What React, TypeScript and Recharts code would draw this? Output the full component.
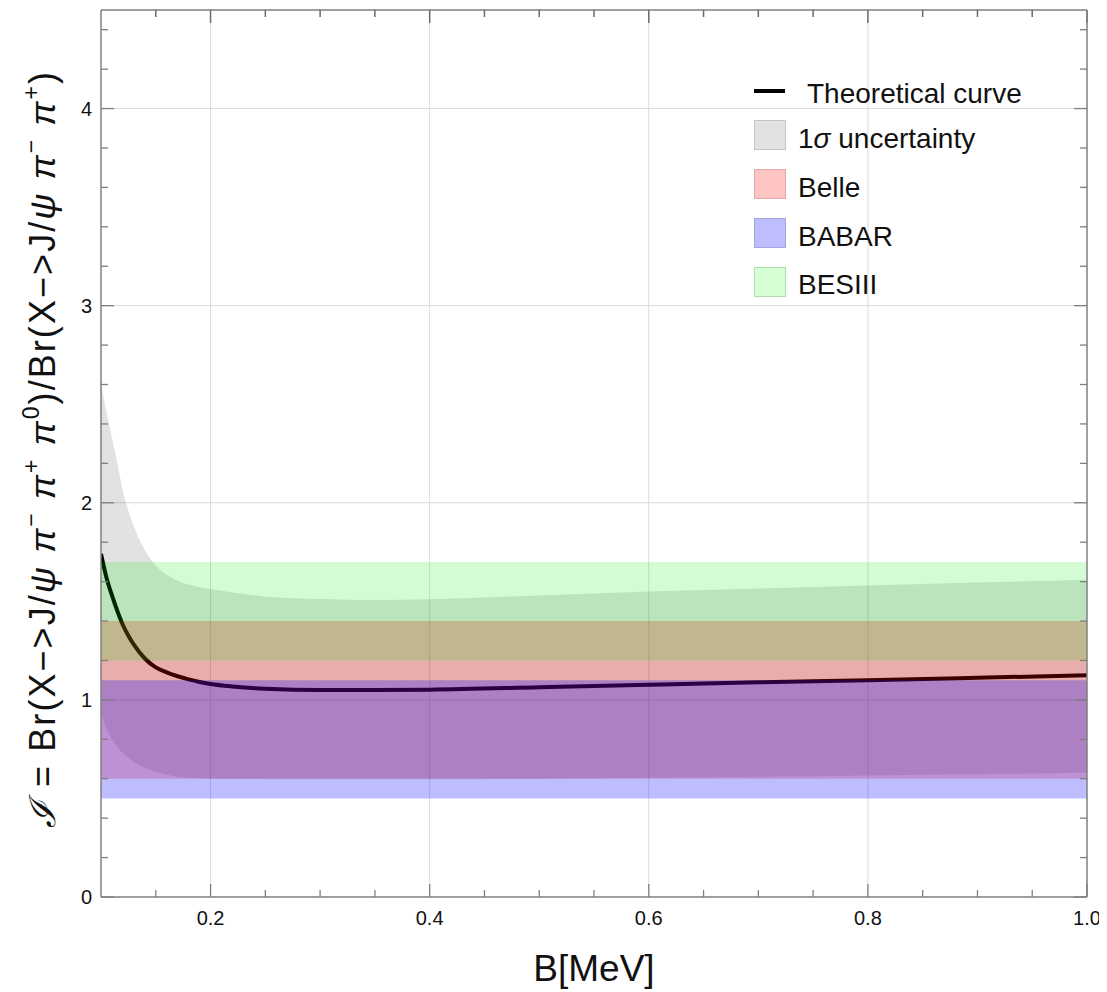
import React from 'react';
import { ComposedChart, Area, XAxis, YAxis, CartesianGrid, ReferenceLine } from 'recharts';

// ---- data ----
const B_VALUES = [0.1, 0.105, 0.11, 0.115, 0.12, 0.125, 0.13, 0.14, 0.15, 0.16, 0.17, 0.18, 0.19, 0.2, 0.22, 0.25, 0.3, 0.35, 0.4, 0.5, 0.6, 0.7, 0.8, 0.9, 1.0];
const CURVE = [1.74, 1.62, 1.53, 1.45, 1.38, 1.325, 1.28, 1.21, 1.165, 1.14, 1.12, 1.104, 1.091, 1.081, 1.068, 1.056, 1.05, 1.05, 1.052, 1.064, 1.077, 1.089, 1.1, 1.112, 1.125];
const SIGMA_HIGH = [2.6, 2.46, 2.33, 2.2, 2.06, 1.96, 1.88, 1.76, 1.68, 1.635, 1.605, 1.585, 1.572, 1.562, 1.545, 1.525, 1.512, 1.507, 1.51, 1.53, 1.55, 1.565, 1.58, 1.595, 1.61];
const SIGMA_LOW = [0.93, 0.855, 0.8, 0.76, 0.73, 0.705, 0.685, 0.655, 0.635, 0.62, 0.61, 0.605, 0.602, 0.6, 0.599, 0.598, 0.597, 0.597, 0.598, 0.6, 0.605, 0.61, 0.617, 0.623, 0.63];
const BELLE = [0.6, 1.4];
const BABAR = [0.5, 1.1];
const BESIII = [1.2, 1.7];

const X_TICKS = [0.15, 0.2, 0.25, 0.3, 0.35, 0.4, 0.45, 0.5, 0.55, 0.6, 0.65, 0.7, 0.75, 0.8, 0.85, 0.9, 0.95, 1.0];
const X_MAJOR = [0.2, 0.4, 0.6, 0.8, 1.0];
const X_LABELS = ['0.2', '0.4', '0.6', '0.8', '1.0'];
const Y_TICKS = [0, 0.2, 0.4, 0.6, 0.8, 1, 1.2, 1.4, 1.6, 1.8, 2, 2.2, 2.4, 2.6, 2.8, 3, 3.2, 3.4, 3.6, 3.8, 4, 4.2, 4.4];
const Y_MAJOR = [0, 1, 2, 3, 4];
const Y_LABELS = ['0', '1', '2', '3', '4'];
const GRID_X = [0.2, 0.4, 0.6, 0.8];
const GRID_Y = [1, 2, 3, 4];
const Y_MAX = 4.5;

const data = B_VALUES.map((b, i) => ({
  b,
  curve: CURVE[i],
  sigma: [SIGMA_LOW[i], SIGMA_HIGH[i]],
  belle: BELLE,
  babar: BABAR,
  besiii: BESIII,
}));

const FONT = '"Liberation Sans", Arial, Helvetica, sans-serif';
const FRAME = '#7f7f7f';
const MAJOR_LEN = 13;
const MINOR_LEN = 7;
const CHART_W = 1099;
const CHART_H = 984;
const TOP_PAD = 2;
const X_AXIS_H = 95;
const PLOT_H = CHART_H - TOP_PAD - X_AXIS_H;
const UNITS_PER_PX = Y_MAX / PLOT_H;

const majorIndex = (list: number[], v: number) => list.findIndex((m) => Math.abs(m - v) < 1e-6);

const BottomTick = (p: any) => {
  const v = p.payload.value;
  const mi = majorIndex(X_MAJOR, v);
  const len = mi >= 0 ? MAJOR_LEN : MINOR_LEN;
  return (
    <g>
      <line x1={p.x} x2={p.x} y1={p.y} y2={p.y - len} stroke={FRAME} strokeWidth={1.3} />
      {mi >= 0 && (
        <text x={p.x} y={p.y + 28} textAnchor="middle" fontSize={20} fontFamily={FONT} fill="#111">
          {X_LABELS[mi]}
        </text>
      )}
    </g>
  );
};

const LeftTick = (p: any) => {
  const v = p.payload.value;
  const mi = majorIndex(Y_MAJOR, v);
  const len = mi >= 0 ? MAJOR_LEN : MINOR_LEN;
  return (
    <g>
      <line x1={p.x} x2={p.x + len} y1={p.y} y2={p.y} stroke={FRAME} strokeWidth={1.3} />
      {mi >= 0 && (
        <text x={p.x - 9} y={p.y + 7} textAnchor="end" fontSize={20} fontFamily={FONT} fill="#111">
          {Y_LABELS[mi]}
        </text>
      )}
    </g>
  );
};

const RightTick = (p: any) => {
  const v = p.payload.value;
  const len = majorIndex(Y_MAJOR, v) >= 0 ? MAJOR_LEN : MINOR_LEN;
  return <line x1={p.x} x2={p.x - len} y1={p.y} y2={p.y} stroke={FRAME} strokeWidth={1.3} />;
};

type Seg = { t: string; it?: boolean; sup?: boolean };
const Y_TITLE: Seg[] = [
  { t: 'ℐ', it: true },
  { t: ' = Br(X−>J/' },
  { t: 'ψ', it: true },
  { t: ' ' },
  { t: 'π', it: true },
  { t: '−', sup: true },
  { t: ' ' },
  { t: 'π', it: true },
  { t: '+', sup: true },
  { t: ' ' },
  { t: 'π', it: true },
  { t: '0', sup: true },
  { t: ')/Br(X−>J/' },
  { t: 'ψ', it: true },
  { t: ' ' },
  { t: 'π', it: true },
  { t: '−', sup: true },
  { t: ' ' },
  { t: 'π', it: true },
  { t: '+', sup: true },
  { t: ')' },
];

const renderTitle = () => {
  let shifted = false;
  return Y_TITLE.map((s, i) => {
    let dy = 0;
    if (s.sup && !shifted) {
      dy = -16;
      shifted = true;
    } else if (!s.sup && shifted) {
      dy = 16;
      shifted = false;
    }
    return (
      <tspan
        key={i}
        dy={dy || undefined}
        fontStyle={s.it ? 'italic' : undefined}
        fontSize={s.sup ? 23 : undefined}
        fontFamily={s.t === 'ℐ' ? '"DejaVu Serif", serif' : undefined}
      >
        {s.t}
      </tspan>
    );
  });
};

const LEGEND = [
  { kind: 'line', label: 'Theoretical curve', color: '#000' },
  { kind: 'box', label: 'σ', color: '#e2e2e2', border: '#c4c4c4' },
  { kind: 'box', label: 'Belle', color: '#ffc4c4', border: '#e0a8a8' },
  { kind: 'box', label: 'BABAR', color: '#bebeff', border: '#a4a4de' },
  { kind: 'box', label: 'BESIII', color: '#d4ffd4', border: '#b0dcb0' },
];
const LEGEND_BOX_Y = [0, 112, 161, 210, 259];
const LEGEND_TEXT_Y = [95, 140, 189, 238, 286];

export default function App() {
  return (
    <div style={{ position: 'relative', width: CHART_W, height: CHART_H }}>
      <ComposedChart
        width={CHART_W}
        height={CHART_H}
        data={data}
        margin={{ top: TOP_PAD, right: 0, bottom: 0, left: 0 }}
      >
        <CartesianGrid
          stroke="#dcdcdc"
          strokeWidth={1}
          verticalValues={GRID_X}
          horizontalValues={GRID_Y}
        />
        <XAxis
          dataKey="b"
          type="number"
          domain={[0.1, 1.0]}
          ticks={X_TICKS}
          allowDataOverflow
          height={X_AXIS_H}
          tickSize={0}
          tickMargin={0}
          tickLine={false}
          tick={BottomTick}
          axisLine={{ stroke: FRAME, strokeWidth: 1.5 }}
          interval={0}
        />
        <YAxis
          type="number"
          domain={[0, Y_MAX]}
          ticks={Y_TICKS}
          allowDataOverflow
          width={93}
          tickSize={0}
          tickMargin={0}
          tickLine={false}
          tick={LeftTick}
          axisLine={{ stroke: FRAME, strokeWidth: 1.5 }}
          interval={0}
        />
        <YAxis
          yAxisId="right"
          orientation="right"
          type="number"
          domain={[0, Y_MAX]}
          ticks={Y_TICKS}
          allowDataOverflow
          width={20}
          tickSize={0}
          tickMargin={0}
          tickLine={false}
          tick={RightTick}
          axisLine={{ stroke: FRAME, strokeWidth: 1.5 }}
          interval={0}
        />
        <Area
          dataKey="sigma"
          type="monotone"
          stroke="none"
          fill="#000000"
          fillOpacity={0.115}
          isAnimationActive={false}
          dot={false}
          activeDot={false}
        />
        <Area
          dataKey="curve"
          type="monotone"
          stroke="#000000"
          strokeWidth={4}
          fill="none"
          dot={false}
          activeDot={false}
          isAnimationActive={false}
        />
        <Area
          dataKey="belle"
          type="linear"
          stroke="none"
          fill="#ff0000"
          fillOpacity={0.23}
          isAnimationActive={false}
          dot={false}
          activeDot={false}
        />
        <Area
          dataKey="babar"
          type="linear"
          stroke="none"
          fill="#0000ff"
          fillOpacity={0.26}
          isAnimationActive={false}
          dot={false}
          activeDot={false}
        />
        <Area
          dataKey="besiii"
          type="linear"
          stroke="none"
          fill="#00ee00"
          fillOpacity={0.17}
          isAnimationActive={false}
          dot={false}
          activeDot={false}
        />
        <ReferenceLine y={Y_MAX} stroke={FRAME} strokeWidth={1.5} ifOverflow="visible" />
        {X_TICKS.map((v) => {
          const len = (majorIndex(X_MAJOR, v) >= 0 ? MAJOR_LEN : MINOR_LEN) * UNITS_PER_PX;
          return (
            <ReferenceLine
              key={`top-${v}`}
              segment={[
                { x: v, y: Y_MAX },
                { x: v, y: Y_MAX - len },
              ]}
              stroke="#6a6a6a"
              strokeWidth={1.5}
              ifOverflow="visible"
            />
          );
        })}
      </ComposedChart>
      <svg
        width={CHART_W}
        height={CHART_H}
        style={{ position: 'absolute', left: 0, top: 0, pointerEvents: 'none' }}
      >
        <text x={586} y={973} textAnchor="middle" fontSize={37} fontFamily={FONT} fill="#111">
          B[MeV]
        </text>
        <g transform="translate(47,442) rotate(-90)">
          <text
            x={0}
            y={0}
            textAnchor="middle"
            fontSize={36}
            fontFamily={FONT}
            fill="#111"
            textLength={756}
            lengthAdjust="spacing"
          >
            {renderTitle()}
          </text>
        </g>
        {LEGEND.map((l, i) => (
          <g key={l.label}>
            {l.kind === 'line' ? (
              <line x1={746} x2={777} y1={83} y2={83} stroke={l.color} strokeWidth={4} />
            ) : (
              <rect
                x={746.5}
                y={LEGEND_BOX_Y[i] + 0.5}
                width={31}
                height={29}
                fill={l.color}
                stroke={l.border}
                strokeWidth={1}
              />
            )}
            <text
              x={l.kind === 'line' ? 799 : 790}
              y={LEGEND_TEXT_Y[i]}
              fontSize={28}
              fontFamily={FONT}
              fill="#111"
            >
              {l.label === 'σ' ? (
                <>
                  1<tspan fontStyle="italic">σ</tspan> uncertainty
                </>
              ) : (
                l.label
              )}
            </text>
          </g>
        ))}
      </svg>
    </div>
  );
}
